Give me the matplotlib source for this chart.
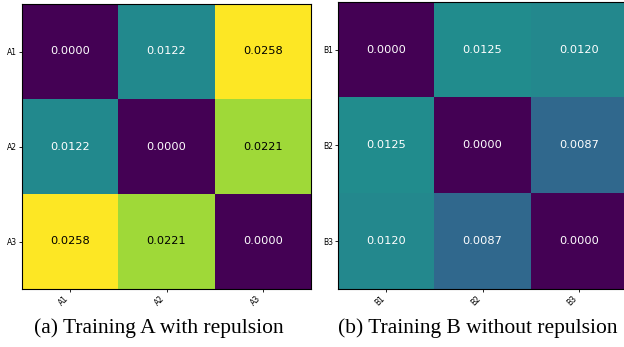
import matplotlib.pyplot as plt
import numpy as np

labels_a = ["A1", "A2", "A3"]
labels_b = ["B1", "B2", "B3"]

dist_a = np.array([[0.0000, 0.0122, 0.0258],
                   [0.0122, 0.0000, 0.0221],
                   [0.0258, 0.0221, 0.0000]])
dist_b = np.array([[0.0000, 0.0125, 0.0120],
                   [0.0125, 0.0000, 0.0087],
                   [0.0120, 0.0087, 0.0000]])

captions = ["(a) Training A with repulsion", "(b) Training B without repulsion"]

W, H = 624, 347
fig = plt.figure(figsize=(W / 100, H / 100), dpi=100)

vmax = dist_a.max()


def draw(ax, mat, labels):
    ax.imshow(mat, cmap="viridis", vmin=0, vmax=vmax, aspect="auto")
    n = len(labels)
    for i in range(n):
        for j in range(n):
            v = mat[i, j]
            color = "black" if v > 0.6 * vmax else "white"
            ax.text(j, i, f"{v:.4f}", ha="center", va="center", color=color, fontsize=8.2)
    ax.set_xticks(range(n))
    ax.set_yticks(range(n))
    ax.set_xticklabels(labels, rotation=45, ha="right", fontsize=5.5)
    ax.set_yticklabels(labels, fontsize=5.5)
    ax.tick_params(length=2, width=0.6, pad=1.5)


ax1 = fig.add_axes([22 / W, 1 - 289 / H, 289 / W, 285 / H])
draw(ax1, dist_a, labels_a)
ax2 = fig.add_axes([338 / W, 1 - 289 / H, 289 / W, 287 / H])
draw(ax2, dist_b, labels_b)

for x, cap in zip([159, 478], captions):
    fig.text(x / W, 1 - 328 / H, cap, ha="center", va="center",
             fontsize=15.5, family="Liberation Serif")

fig.savefig("out.png", dpi=100)
